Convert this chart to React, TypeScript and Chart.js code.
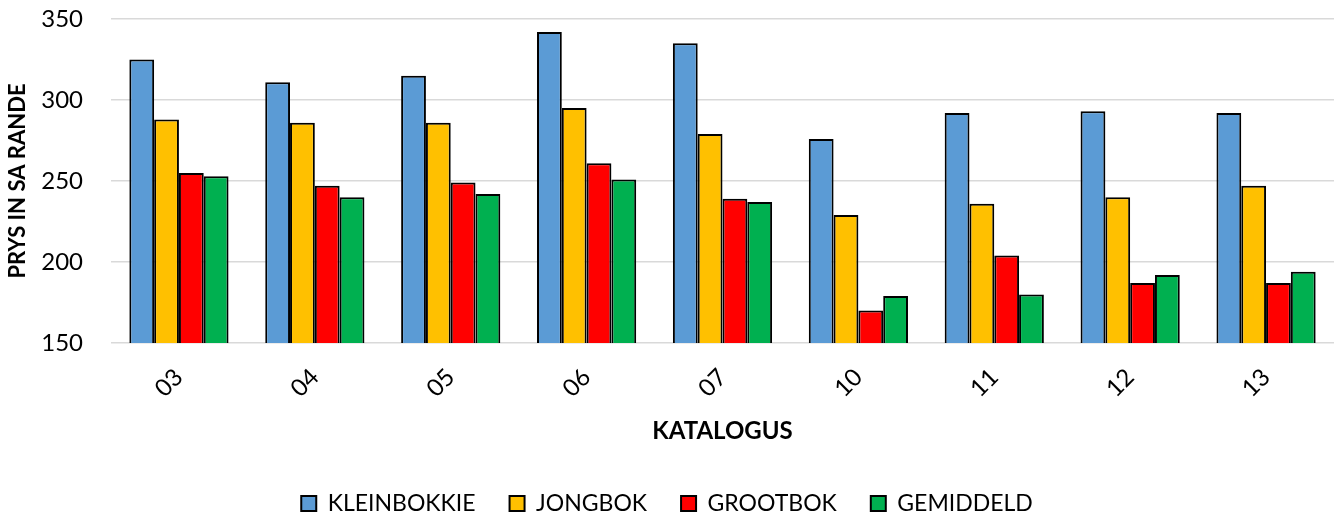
import React, { useEffect, useRef } from "react";
import { Chart, registerables } from "chart.js";

Chart.register(...registerables);

const categories = ["03", "04", "05", "06", "07", "10", "11", "12", "13"];
const kleinbokkie = [325, 311, 315, 342, 335, 276, 292, 293, 292];
const jongbok = [288, 286, 286, 295, 279, 229, 236, 240, 247];
const grootbok = [255, 247, 249, 261, 239, 170, 204, 187, 187];
const gemiddeld = [253, 240, 242, 251, 237, 179, 180, 192, 194];
const yTicks = [150, 200, 250, 300, 350];

const FONT = "Lato, 'Open Sans', sans-serif";

export default function App() {
  const canvasRef = useRef<HTMLCanvasElement | null>(null);

  useEffect(() => {
    document.body.style.margin = "0";
    const canvas = canvasRef.current;
    if (!canvas) return;
    const mk = (label: string, data: number[], color: string) => ({
      label,
      data,
      backgroundColor: color,
      borderColor: "#000000",
      borderWidth: 2,
      categoryPercentage: 0.73,
      barPercentage: 1.0,
    });
    const chart = new Chart(canvas, {
      type: "bar",
      data: {
        labels: categories,
        datasets: [
          mk("KLEINBOKKIE", kleinbokkie, "#5B9BD5"),
          mk("JONGBOK", jongbok, "#FFC000"),
          mk("GROOTBOK", grootbok, "#FF0000"),
          mk("GEMIDDELD", gemiddeld, "#00B050"),
        ],
      },
      options: {
        animation: false,
        responsive: true,
        maintainAspectRatio: false,
        layout: { padding: { top: 19, right: 5, left: 0, bottom: 0 } },
        plugins: {
          tooltip: { enabled: false },
          legend: {
            position: "bottom",
            maxHeight: 62,
            labels: {
              boxWidth: 15,
              boxHeight: 15,
              padding: 34,
              color: "#000000",
              font: { family: FONT, size: 23 },
            },
          },
        },
        scales: {
          x: {
            grid: { display: false, drawTicks: false },
            border: { display: false },
            ticks: {
              minRotation: 45,
              maxRotation: 45,
              padding: 20,
              color: "#000000",
              font: { family: FONT, size: 24 },
            },
            title: {
              display: true,
              text: "KATALOGUS",
              color: "#000000",
              font: { family: FONT, size: 24, weight: "bold" },
              padding: { top: 0, bottom: 12 },
            },
            afterFit: (scale: any) => {
              scale.height = 115;
            },
          },
          y: {
            min: 150,
            max: 350,
            afterBuildTicks: (scale: any) => {
              scale.ticks = yTicks.map((v) => ({ value: v }));
            },
            grid: { color: "#d9d9d9", lineWidth: 1.5, drawTicks: false },
            border: { display: false },
            ticks: {
              padding: 28,
              color: "#000000",
              font: { family: FONT, size: 24 },
            },
            title: {
              display: true,
              text: "PRYS IN SA RANDE",
              color: "#000000",
              font: { family: FONT, size: 22, weight: "bold" },
              padding: { top: 5, bottom: 0 },
            },
            afterFit: (scale: any) => {
              scale.width = 111;
              scale.paddingTop = 14;
              scale.paddingBottom = 14;
            },
          },
        },
      },
    });
    return () => chart.destroy();
  }, []);

  return (
    <div style={{ position: "relative", width: "1339px", height: "520px" }}>
      <canvas ref={canvasRef} />
    </div>
  );
}
